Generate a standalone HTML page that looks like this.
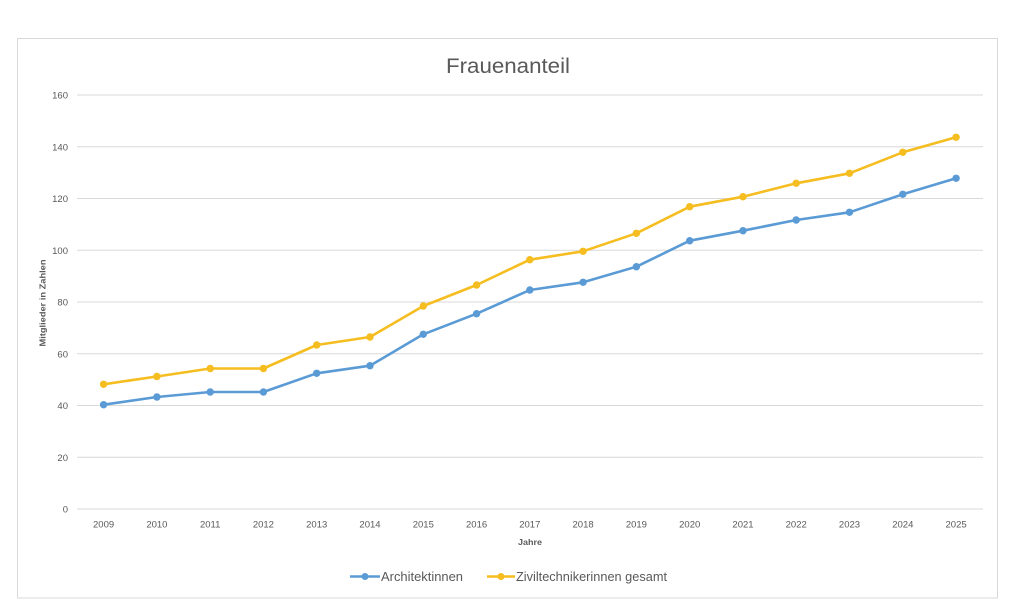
<!DOCTYPE html>
<html>
<head>
<meta charset="utf-8">
<style>
  html,body{margin:0;padding:0;background:#fff;}
  svg{display:block;}
  text{font-family:"Liberation Sans",sans-serif;fill:#595959;}
</style>
</head>
<body>
<svg width="1024" height="615" viewBox="0 0 1024 615" xmlns="http://www.w3.org/2000/svg">
  <rect x="0" y="0" width="1024" height="615" fill="#fff"/>
  <rect x="17.5" y="38.5" width="980" height="559.5" fill="#fff" stroke="#d9d9d9" stroke-width="1"/>

  <text x="508" y="73" font-size="21.5" text-anchor="middle" textLength="124" lengthAdjust="spacingAndGlyphs">Frauenanteil</text>

  <!-- gridlines -->
  <g stroke="#d9d9d9" stroke-width="1">
    <line x1="77" y1="95" x2="983" y2="95"/>
    <line x1="77" y1="146.75" x2="983" y2="146.75"/>
    <line x1="77" y1="198.5" x2="983" y2="198.5"/>
    <line x1="77" y1="250.25" x2="983" y2="250.25"/>
    <line x1="77" y1="302" x2="983" y2="302"/>
    <line x1="77" y1="353.75" x2="983" y2="353.75"/>
    <line x1="77" y1="405.5" x2="983" y2="405.5"/>
    <line x1="77" y1="457.25" x2="983" y2="457.25"/>
    <line x1="77" y1="509" x2="983" y2="509"/>
  </g>

  <!-- y tick labels -->
  <g font-size="9.5" text-anchor="end">
    <text x="68" y="98.5">160</text>
    <text x="68" y="150.25">140</text>
    <text x="68" y="202">120</text>
    <text x="68" y="253.75">100</text>
    <text x="68" y="305.5">80</text>
    <text x="68" y="357.25">60</text>
    <text x="68" y="409">40</text>
    <text x="68" y="460.75">20</text>
    <text x="68" y="512.5">0</text>
  </g>

  <!-- x tick labels -->
  <g font-size="9.5" text-anchor="middle">
    <text x="103.6" y="527.5">2009</text>
    <text x="156.9" y="527.5">2010</text>
    <text x="210.2" y="527.5">2011</text>
    <text x="263.4" y="527.5">2012</text>
    <text x="316.7" y="527.5">2013</text>
    <text x="370" y="527.5">2014</text>
    <text x="423.3" y="527.5">2015</text>
    <text x="476.6" y="527.5">2016</text>
    <text x="529.8" y="527.5">2017</text>
    <text x="583.1" y="527.5">2018</text>
    <text x="636.4" y="527.5">2019</text>
    <text x="689.7" y="527.5">2020</text>
    <text x="743" y="527.5">2021</text>
    <text x="796.2" y="527.5">2022</text>
    <text x="849.5" y="527.5">2023</text>
    <text x="902.8" y="527.5">2024</text>
    <text x="956.1" y="527.5">2025</text>
  </g>

  <!-- axis titles -->
  <text x="530" y="545" font-size="8.5" font-weight="bold" text-anchor="middle" textLength="24" lengthAdjust="spacingAndGlyphs">Jahre</text>
  <text transform="translate(45.5,303) rotate(-90)" font-size="8.5" font-weight="bold" text-anchor="middle" textLength="87" lengthAdjust="spacingAndGlyphs">Mitglieder in Zahlen</text>

  <!-- series: Zivil -->
  <polyline fill="none" stroke="#f5bd1f" stroke-width="2.6" stroke-linejoin="round" stroke-linecap="round"
    points="103.6,384.3 156.9,376.5 210.2,368.5 263.4,368.5 316.7,345 370,337 423.3,306 476.6,285 529.8,259.7 583.1,251.3 636.4,233.3 689.7,206.7 743,196.7 796.2,183.3 849.5,173.3 902.8,152.3 956.1,137.3"/>
  <g fill="#f5bd1f">
    <circle cx="103.6" cy="384.3" r="3.7"/><circle cx="156.9" cy="376.5" r="3.7"/><circle cx="210.2" cy="368.5" r="3.7"/><circle cx="263.4" cy="368.5" r="3.7"/><circle cx="316.7" cy="345" r="3.7"/><circle cx="370" cy="337" r="3.7"/><circle cx="423.3" cy="306" r="3.7"/><circle cx="476.6" cy="285" r="3.7"/><circle cx="529.8" cy="259.7" r="3.7"/><circle cx="583.1" cy="251.3" r="3.7"/><circle cx="636.4" cy="233.3" r="3.7"/><circle cx="689.7" cy="206.7" r="3.7"/><circle cx="743" cy="196.7" r="3.7"/><circle cx="796.2" cy="183.3" r="3.7"/><circle cx="849.5" cy="173.3" r="3.7"/><circle cx="902.8" cy="152.3" r="3.7"/><circle cx="956.1" cy="137.3" r="3.7"/>
  </g>

  <!-- series: Architektinnen -->
  <polyline fill="none" stroke="#5b9bd5" stroke-width="2.6" stroke-linejoin="round" stroke-linecap="round"
    points="103.6,404.7 156.9,397 210.2,392 263.4,392 316.7,373.3 370,365.7 423.3,334.3 476.6,313.7 529.8,290 583.1,282.3 636.4,266.7 689.7,240.7 743,230.7 796.2,220 849.5,212.3 902.8,194.3 956.1,178.3"/>
  <g fill="#5b9bd5">
    <circle cx="103.6" cy="404.7" r="3.7"/><circle cx="156.9" cy="397" r="3.7"/><circle cx="210.2" cy="392" r="3.7"/><circle cx="263.4" cy="392" r="3.7"/><circle cx="316.7" cy="373.3" r="3.7"/><circle cx="370" cy="365.7" r="3.7"/><circle cx="423.3" cy="334.3" r="3.7"/><circle cx="476.6" cy="313.7" r="3.7"/><circle cx="529.8" cy="290" r="3.7"/><circle cx="583.1" cy="282.3" r="3.7"/><circle cx="636.4" cy="266.7" r="3.7"/><circle cx="689.7" cy="240.7" r="3.7"/><circle cx="743" cy="230.7" r="3.7"/><circle cx="796.2" cy="220" r="3.7"/><circle cx="849.5" cy="212.3" r="3.7"/><circle cx="902.8" cy="194.3" r="3.7"/><circle cx="956.1" cy="178.3" r="3.7"/>
  </g>

  <!-- legend -->
  <line x1="350" y1="576.5" x2="380" y2="576.5" stroke="#5b9bd5" stroke-width="2.6"/>
  <circle cx="365" cy="576.5" r="3.5" fill="#5b9bd5"/>
  <text x="381" y="581" font-size="13" textLength="82" lengthAdjust="spacingAndGlyphs">Architektinnen</text>

  <line x1="487" y1="576.5" x2="515" y2="576.5" stroke="#f5bd1f" stroke-width="2.6"/>
  <circle cx="501" cy="576.5" r="3.5" fill="#f5bd1f"/>
  <text x="516" y="581" font-size="13" textLength="151" lengthAdjust="spacingAndGlyphs">Ziviltechnikerinnen gesamt</text>
</svg>
</body>
</html>
